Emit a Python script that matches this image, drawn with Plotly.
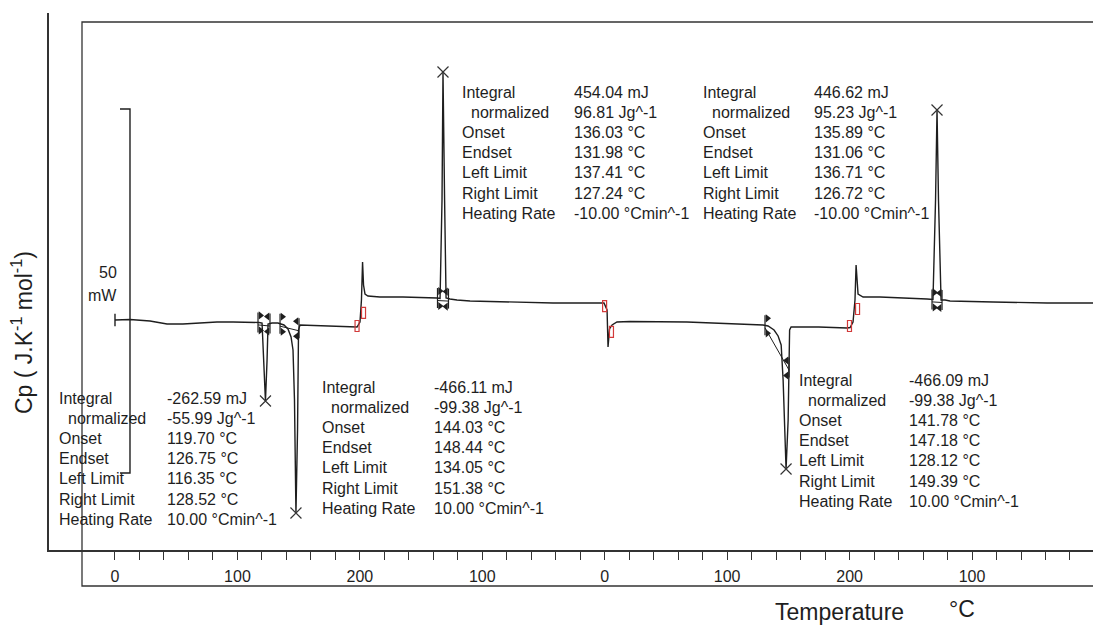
import numpy as np
import plotly.graph_objects as go

# ---------------- data ----------------
# x: position along the temperature programme (°C steps: 0->200 heat, 200->0 cool, 0->200 heat, 200->... cool)
# y: heat flow (mW)
heat1_x = [0, 12.3, 28.6, 42.5, 55.5, 69.4, 83.3, 96.4, 112.7, 117.6, 120.1, 121.7, 122.9, 124.2, 125.0,
           128.2, 133.1, 138.0, 141.3, 143.8, 145.4, 146.6, 147.8, 149.1, 149.9, 151.1, 163.4, 178.1,
           191.9, 197.7, 200.1, 201.3, 202.2, 203.0, 204.2, 206.6, 216.4]
heat1_y = [31.59, 31.66, 31.46, 31.04, 31.04, 31.18, 31.32, 31.32, 31.32, 31.25, 31.18, 26.1, 20.47, 26.1, 31.04,
           31.18, 31.18, 30.91, 30.36, 29.26, 27.47, 20.6, 5.08, 16.5, 30.22, 30.91, 30.84, 30.77,
           30.63, 30.63, 31.32, 34.34, 39.56, 36.4, 35.16, 34.89, 34.75]
cool1_x = [235.2, 263.0, 265.5, 267.1, 267.9, 269.2, 270.4, 273.6, 279.3, 290.0, 316.9, 344.7, 357.8,
           385.5, 399.4, 401.9, 402.7, 403.9, 406.0, 410.0, 420.7]
cool1_y = [34.75, 34.62, 34.55, 48.1, 65.66, 48.1, 34.62, 34.48, 34.34, 34.2, 34.07, 33.93, 33.93,
           33.93, 33.93, 32.97, 27.88, 30.36, 30.91, 31.32, 31.39]
heat2_x = [467.2, 521.1, 529.3, 533.4, 538.3, 541.6, 544.1, 545.7, 548.1, 549.8, 551.0, 552.2, 574.8,
           597.9, 600.4, 602.8, 604.4, 605.3, 606.1, 606.9, 611.0, 624.8]
heat2_y = [31.32, 31.04, 30.91, 30.77, 30.22, 29.4, 28.16, 23.35, 11.13, 17.86, 30.22, 30.63, 30.63,
           30.5, 30.56, 31.32, 34.34, 39.15, 36.4, 35.16, 34.75, 34.75]
cool2_x = [663.2, 668.1, 670.2, 671.4, 672.6, 674.7, 678.0, 682.0, 717.2, 761.3, 798.8]
cool2_y = [34.48, 34.41, 48.1, 60.44, 48.1, 34.34, 34.34, 34.2, 34.07, 33.93, 33.93]

# peak tips (x) and integration limits (left, right)
peak_x = [122.9, 147.8, 267.9, 548.1, 671.4]
limits = [(116.8, 126.6), (134.8, 150.3), (263.4, 272.4), (530.9, 550.5), (667.3, 675.5)]

# glass-transition markers (x, y)
tg_lo_x = [197.7, 399.9, 599.9]
tg_lo_y = [30.77, 33.5, 30.77]
tg_hi_x = [203.0, 405.5, 606.5]
tg_hi_y = [32.56, 29.95, 33.1]

# scale bar
scale_x = 12.25
scale_top = 60.58
scale_len = 50.0

# axis ticks
tick_pos = [0, 100, 200, 300, 400, 500, 600, 700]
tick_text = ["0", "100", "200", "100", "0", "100", "200", "100"]

# evaluation tables
row_labels = ["Integral", "normalized", "Onset", "Endset", "Left Limit", "Right Limit", "Heating Rate"]
block_vals = [
    ["-262.59 mJ", "-55.99 Jg^-1", "119.70 °C", "126.75 °C", "116.35 °C", "128.52 °C", "10.00 °Cmin^-1"],
    ["454.04 mJ", "96.81 Jg^-1", "136.03 °C", "131.98 °C", "137.41 °C", "127.24 °C", "-10.00 °Cmin^-1"],
    ["446.62 mJ", "95.23 Jg^-1", "135.89 °C", "131.06 °C", "136.71 °C", "126.72 °C", "-10.00 °Cmin^-1"],
    ["-466.11 mJ", "-99.38 Jg^-1", "144.03 °C", "148.44 °C", "134.05 °C", "151.38 °C", "10.00 °Cmin^-1"],
    ["-466.09 mJ", "-99.38 Jg^-1", "141.78 °C", "147.18 °C", "128.12 °C", "149.39 °C", "10.00 °Cmin^-1"],
]

# ---------------- layout geometry (pixels) ----------------
W, H = 1093, 626
L, T, B = 49, 13, 76
PW, PH = W - L, H - T - B
XR = [-53.9, 798.8]
YR = [0, 73.76]
px_per_x = PW / (XR[1] - XR[0])
px_per_y = PH / (YR[1] - YR[0])


def paper_x(px):
    return (px - L) / PW


def paper_y(py):
    return (H - B - py) / PH


def dx(px):
    return px / px_per_x


def dy(px):
    return px / px_per_y


FONT = "Liberation Sans, Arial, sans-serif"
INK = "#1e1e1e"

x_all = np.array(heat1_x + cool1_x + heat2_x + cool2_x)
y_all = np.array(heat1_y + cool1_y + heat2_y + cool2_y)

fig = go.Figure()

# integration baselines
bx, by = [], []
for l, r in limits:
    bx += [l, r, None]
    by += [float(np.interp(l, x_all, y_all)) - dy(2.5), float(np.interp(r, x_all, y_all)) - dy(2.5), None]
fig.add_trace(go.Scatter(x=bx, y=by, mode="lines", line=dict(color=INK, width=1), hoverinfo="skip"))

# curve
fig.add_trace(go.Scatter(x=x_all, y=y_all, mode="lines", line=dict(color=INK, width=1.4)))

# start tick
fig.add_trace(go.Scatter(x=[x_all[0]], y=[y_all[0]], mode="markers",
                         marker=dict(symbol="line-ns", size=9, line=dict(color=INK, width=1.4))))

# limit markers
vx, vy = [], []
lt_x, lt_y, rt_x, rt_y = [], [], [], []
for l, r in limits:
    for xx in (l, r):
        yy = float(np.interp(xx, x_all, y_all))
        vx += [xx, xx, None]
        vy += [yy + dy(10), yy - dy(10), None]
    yl = float(np.interp(l, x_all, y_all))
    yr = float(np.interp(r, x_all, y_all))
    lt_x += [l + dx(2.5), l + dx(2.5)]
    lt_y += [yl + dy(7), yl - dy(8)]
    rt_x += [r - dx(2.5), r - dx(2.5)]
    rt_y += [yr + dy(7), yr - dy(8)]
fig.add_trace(go.Scatter(x=vx, y=vy, mode="lines", line=dict(color=INK, width=1.2)))
fig.add_trace(go.Scatter(x=lt_x, y=lt_y, mode="markers",
                         marker=dict(symbol="triangle-right", size=7, color=INK)))
fig.add_trace(go.Scatter(x=rt_x, y=rt_y, mode="markers",
                         marker=dict(symbol="triangle-left", size=7, color=INK)))

# peak X markers
peak_y = [float(np.interp(p, x_all, y_all)) for p in peak_x]
fig.add_trace(go.Scatter(x=peak_x, y=peak_y, mode="markers",
                         marker=dict(symbol="x-thin", size=11, line=dict(color="#333", width=1.2))))

# scale bar
fig.add_trace(go.Scatter(x=[scale_x - dx(10), scale_x, scale_x, scale_x - dx(10)],
                         y=[scale_top, scale_top, scale_top - scale_len, scale_top - scale_len],
                         mode="lines", line=dict(color=INK, width=1.4)))

shapes = []
# red Tg markers
for xs, ys in ((tg_lo_x, tg_lo_y), (tg_hi_x, tg_hi_y)):
    for xx, yy in zip(xs, ys):
        shapes.append(dict(type="rect", xref="x", yref="y",
                           x0=xx - dx(2), x1=xx + dx(2), y0=yy - dy(5.5), y1=yy + dy(5.5),
                           line=dict(color="#d23a3a", width=1.2)))
# inner frame
shapes.append(dict(type="path", xref="paper", yref="paper",
                   path=f"M {paper_x(1100)} {paper_y(22)} L {paper_x(82)} {paper_y(22)} "
                        f"L {paper_x(82)} {paper_y(586)} L {paper_x(1100)} {paper_y(586)}",
                   line=dict(color="#333", width=1.3)))

annotations = []
block_pos = [(57, 165, 398), (460, 572, 92), (701, 812, 92), (320, 432, 387), (797, 907, 380)]
for (lx, vxp, ty), vals in zip(block_pos, block_vals):
    for i, (lab, val) in enumerate(zip(row_labels, vals)):
        yy = ty + i * 20.2
        annotations.append(dict(x=paper_x(lx + (9 if i == 1 else 0)), y=paper_y(yy), xref="paper", yref="paper",
                                text=lab, showarrow=False, xanchor="left", yanchor="middle",
                                font=dict(family=FONT, size=16, color=INK)))
        annotations.append(dict(x=paper_x(vxp), y=paper_y(yy), xref="paper", yref="paper",
                                text=val, showarrow=False, xanchor="left", yanchor="middle",
                                font=dict(family=FONT, size=16, color=INK)))

annotations += [
    dict(x=paper_x(119), y=paper_y(272), xref="paper", yref="paper", text="50", showarrow=False,
         xanchor="right", yanchor="middle", font=dict(family=FONT, size=16, color=INK)),
    dict(x=paper_x(119), y=paper_y(295), xref="paper", yref="paper", text="mW", showarrow=False,
         xanchor="right", yanchor="middle", font=dict(family=FONT, size=16, color=INK)),
    dict(x=paper_x(839), y=paper_y(612), xref="paper", yref="paper", text="Temperature", showarrow=False,
         xanchor="center", yanchor="middle", font=dict(family=FONT, size=23, color=INK)),
    dict(x=paper_x(962), y=paper_y(609), xref="paper", yref="paper", text="°C", showarrow=False,
         xanchor="center", yanchor="middle", font=dict(family=FONT, size=23, color=INK)),
    dict(x=paper_x(22), y=paper_y(333), xref="paper", yref="paper",
         text="Cp ( J.K<sup>-1</sup> mol<sup>-1</sup>)", showarrow=False, textangle=-90,
         xanchor="center", yanchor="middle", font=dict(family=FONT, size=23, color=INK)),
]

minor_pos = [v for v in range(0, 800, 20)]
fig.update_layout(
    width=W, height=H,
    margin=dict(l=L, r=0, t=T, b=B, pad=0),
    paper_bgcolor="white", plot_bgcolor="white",
    showlegend=False,
    shapes=shapes,
    annotations=annotations,
    xaxis=dict(range=XR, showgrid=False, zeroline=False, showline=True, linecolor="#333", linewidth=1.5,
               tickmode="array", tickvals=minor_pos,
               ticktext=[tick_text[tick_pos.index(v)] if v in tick_pos else "" for v in minor_pos],
               ticks="outside", ticklen=8, tickwidth=1, tickcolor="#333", ticklabelstandoff=3,
               tickfont=dict(family="Liberation Sans Narrow, Liberation Sans, Arial", size=16, color=INK)),
    yaxis=dict(range=YR, showgrid=False, zeroline=False, showline=True, linecolor="#333", linewidth=1.5,
               showticklabels=False, ticks=""),
)

fig.write_html("out.html", config={"displayModeBar": False},
               post_script="document.body.style.margin='0px';document.body.style.overflow='hidden';")
